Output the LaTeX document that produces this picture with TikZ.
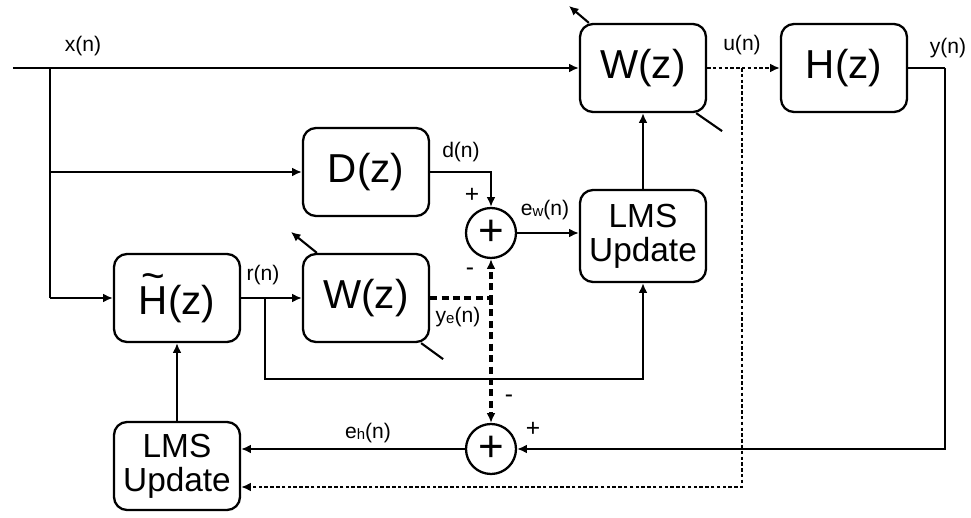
\documentclass[tikz,border=0pt]{standalone}
\usepackage{fontspec}
\setmainfont{Liberation Sans}
\usepackage{tikz}
\usetikzlibrary{arrows.meta, positioning}

\newcommand{\lowsub}[1]{\raisebox{-0.6pt}{\fontsize{8.5}{9}\selectfont #1}}
\newcommand{\tildeH}{\rlap{\raisebox{0.62em}{\hspace{0.06em}\textasciitilde}}H}

\begin{document}
\begin{tikzpicture}[
    block/.style={draw, rectangle, rounded corners=0.26cm, line width=1.3pt, minimum width=2.52cm, minimum height=1.76cm, inner sep=0pt, align=center, font=\fontsize{23}{25}\selectfont}, % filter boxes
    lms/.style={block, font=\fontsize{19}{19.5}\selectfont}, % update boxes
    sum/.style={draw, circle, line width=1.3pt, minimum size=1cm, inner sep=0pt, font=\fontsize{25}{25}\selectfont},
    lbl/.style={inner sep=0pt, font=\fontsize{12}{13}\selectfont},
    sgn/.style={inner sep=0pt, font=\fontsize{14}{14}\selectfont},
    edge/.style={-{Latex[length=5.5pt, width=5pt]}, line width=1.2pt},
    line/.style={line width=1.2pt},
    dashedge/.style={edge, line width=2pt, dash pattern=on 4pt off 2.5pt},
    dotedge/.style={edge, line width=1.2pt, dash pattern=on 2pt off 1.3pt}
]
\useasboundingbox (0,0) rectangle (19.42,10.36);

% Blocks at fixed coordinates
\node[block] (w-top) at (12.86, 9.00) {W(z)};
\node[block] (h-plant) at (16.88, 9.00) {H(z)};
\node[block] (d-delay) at (7.32, 6.92) {D(z)};
\node[sum] (sum-w) at (9.82, 5.70) {+};
\node[lms, minimum height=1.84cm] (lms-w) at (12.86, 5.64) {LMS\\Update};
\node[block] (h-est) at (3.54, 4.40) {\tildeH(z)};
\node[block] (w-copy) at (7.32, 4.40) {W(z)};
\node[sum] (sum-h) at (9.82, 1.38) {+};
\node[lms] (lms-h) at (3.54, 1.04) {LMS\\Update};

% Branch points
\coordinate (x-in) at (0.26, 9.00);
\coordinate (x-split) at (1.00, 9.00);
\coordinate (r-split) at (5.30, 4.40);
\coordinate (r-low) at (5.30, 2.78);
\coordinate (ye-split) at (9.82, 4.40);
\coordinate (u-split) at (14.84, 9.00);
\coordinate (u-low) at (14.84, 0.62);
\coordinate (y-corner) at (18.90, 9.00);

% Signal labels
\node[lbl] (lbl-x) at (1.66, 9.44) {x(n)};
\node[lbl] (lbl-u) at (14.84, 9.46) {u(n)};
\node[lbl] (lbl-y) at (18.96, 9.40) {y(n)};
\node[lbl] (lbl-d) at (9.22, 7.32) {d(n)};
\node[lbl] (lbl-ew) at (10.90, 6.16) {e\lowsub{w}(n)};
\node[lbl] (lbl-r) at (5.26, 4.86) {r(n)};
\node[lbl] (lbl-ye) at (9.16, 4.02) {y\lowsub{e}(n)};
\node[lbl] (lbl-eh) at (7.36, 1.70) {e\lowsub{h}(n)};
\node[sgn] (sgn-d) at (9.44, 6.46) {+};
\node[sgn] (sgn-ye) at (9.40, 4.92) {-};
\node[sgn] (sgn-low) at (10.18, 2.38) {-};
\node[sgn] (sgn-y) at (10.66, 1.78) {+};

% Edges
\draw[edge] (x-in) -- (w-top);
\draw[line] (x-split) -- (1.00, 4.40);
\draw[edge] (x-split |- d-delay) -- (d-delay);
\draw[edge] (x-split |- h-est) -- (h-est);
\draw[edge] (d-delay) -| (sum-w);
\draw[edge] (sum-w) -- (sum-w -| lms-w.west);
\draw[edge] (lms-w) -- (w-top);
\draw[edge] (h-est) -- (w-copy);
\draw[edge] (r-split) -- (r-low) -| (lms-w);
\draw[dashedge] (w-copy) -- (ye-split) -- (sum-w);
\draw[dashedge] (ye-split) -- (sum-h);
\draw[dotedge] (w-top) -- (h-plant);
\draw[dotedge] (u-split) -- (u-low) -- (lms-h.east |- u-low);
\draw[line] (h-plant) -- (y-corner);
\draw[edge] (y-corner) |- (sum-h);
\draw[edge] (sum-h) -- (lms-h.east |- sum-h);
\draw[edge] (lms-h) -- (h-est);

% Adaptation arrows and slashes
\draw[edge] ([xshift=0.2cm]w-top.north west) -- ++(-0.40, 0.34);
\draw[line] ([xshift=-0.22cm]w-top.south east) -- ++(0.52, -0.36);
\draw[edge] ([xshift=0.30cm]w-copy.north west) -- ++(-0.52, 0.42);
\draw[line] ([xshift=-0.18cm]w-copy.south east) -- ++(0.44, -0.32);

\end{tikzpicture}
\end{document}
